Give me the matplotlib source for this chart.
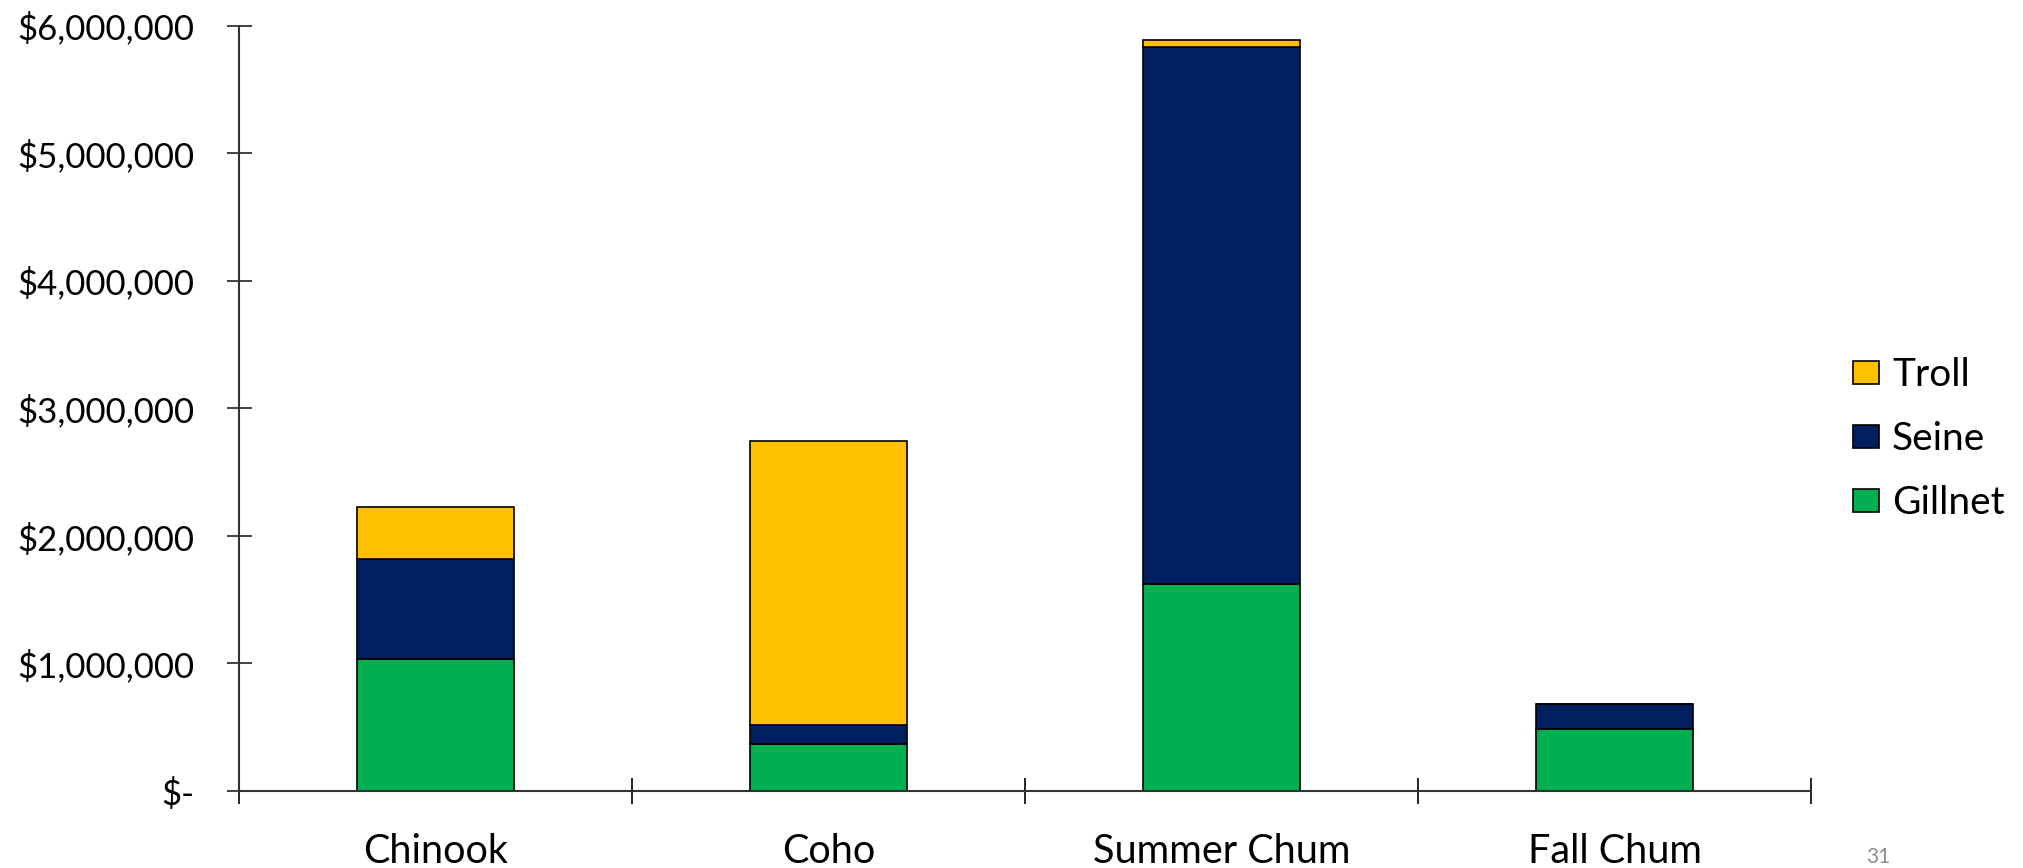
import matplotlib
matplotlib.use("Agg")
import matplotlib.pyplot as plt
from matplotlib.patches import Patch
from matplotlib.ticker import FuncFormatter
import numpy as np

# Ex-vessel value by species and gear
species = ["Chinook", "Coho", "Summer Chum", "Fall Chum"]
gillnet = [1035000, 365000, 1620000, 486000]
seine = [782000, 155000, 4215000, 194000]
troll = [413000, 2222000, 50000, 0]

c_gillnet = "#00B050"
c_seine = "#002060"
c_troll = "#FFC000"

label_font = "Lato"
plt.rcParams["font.family"] = [label_font, "DejaVu Sans"]

fig = plt.figure(figsize=(20.24, 8.68), dpi=100)
ax = fig.add_axes([0.118, 0.0887, 0.7768, 0.8816])

x = np.arange(len(species))
w = 0.4
g = np.array(gillnet)
s = np.array(seine)
t = np.array(troll)

ax.bar(x, g, w, color=c_gillnet, edgecolor="black", linewidth=1.2, label="Gillnet")
ax.bar(x, s, w, bottom=g, color=c_seine, edgecolor="black", linewidth=1.2, label="Seine")
ax.bar(x, t, w, bottom=g + s, color=c_troll, edgecolor="black", linewidth=1.2, label="Troll")

ax.set_xlim(-0.5, len(species) - 0.5)
ax.set_ylim(0, 6000000)
ax.set_yticks(np.arange(0, 6000001, 1000000))

def money(v, pos):
    if v == 0:
        return "$-"
    return "${:,.0f}".format(v)

ax.yaxis.set_major_formatter(FuncFormatter(money))

# category names sit between the boundary ticks
ax.set_xticks(np.arange(-0.5, len(species), 1.0))
ax.set_xticklabels([])
ax.set_xticks(x, minor=True)
ax.set_xticklabels(species, minor=True, fontsize=28.5)
ax.tick_params(axis="x", which="minor", length=0, pad=30)
ax.tick_params(axis="x", which="major", direction="inout", length=19, width=1.2, color="black")
ax.tick_params(axis="y", direction="inout", length=18, width=1.2, color="#222222",
               labelsize=25, pad=23)

for side in ["top", "right"]:
    ax.spines[side].set_visible(False)
for side in ["left", "bottom"]:
    ax.spines[side].set_color("#333333")
    ax.spines[side].set_linewidth(1.5)

handles = [
    Patch(facecolor=c_troll, edgecolor="black", linewidth=1.2, label="Troll"),
    Patch(facecolor=c_seine, edgecolor="black", linewidth=1.2, label="Seine"),
    Patch(facecolor=c_gillnet, edgecolor="black", linewidth=1.2, label="Gillnet"),
]
fig.legend(handles=handles, loc="center left", bbox_to_anchor=(0.9157, 0.494),
           frameon=False, prop={"size": 28}, borderpad=0, borderaxespad=0,
           handlelength=0.66, handleheight=0.57, handletextpad=0.33, labelspacing=0.72)

# slide number
fig.text(0.928, 0.001, "31", ha="center", va="bottom", fontsize=15, color="#8c8c8c")

fig.savefig("out.png", dpi=100)
